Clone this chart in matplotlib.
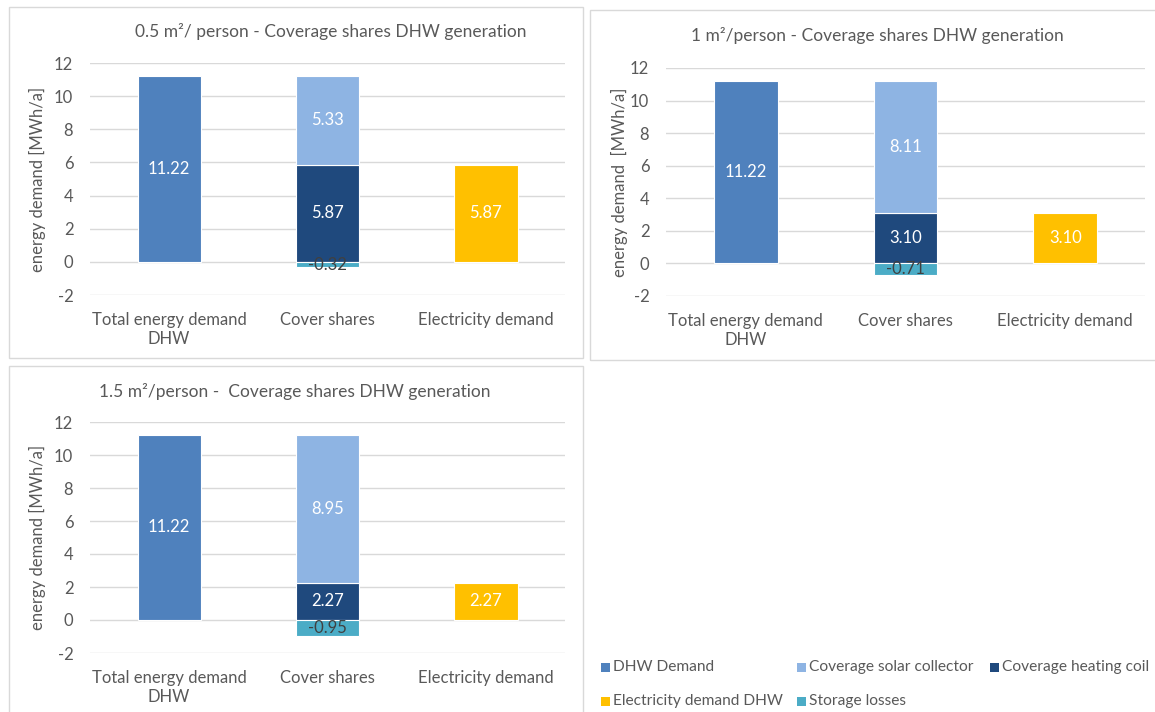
import matplotlib
matplotlib.use("Agg")
import matplotlib.pyplot as plt
from matplotlib.patches import Rectangle
import numpy as np

plt.rcParams['font.family'] = ['Lato', 'DejaVu Sans']

# ---- data -------------------------------------------------------------
categories = ["Total energy demand\nDHW", "Cover shares", "Electricity demand"]
titles = ["0.5 m²/ person - Coverage shares DHW generation",
          "1 m²/person - Coverage shares DHW generation",
          "1.5 m²/person -  Coverage shares DHW generation"]
ylabels = ["energy demand [MWh/a]",
           "energy demand  [MWh/a]",
           "energy demand [MWh/a]"]
dhw_demand = [11.22, 11.22, 11.22]
solar_cov = [5.33, 8.11, 8.95]
coil_cov = [5.87, 3.10, 2.27]
elec_demand = [5.87, 3.10, 2.27]
storage_losses = [-0.32, -0.71, -0.95]
yticks = [-2, 0, 2, 4, 6, 8, 10, 12]

series_names = ["DHW Demand", "Coverage solar collector", "Coverage heating coil",
                "Electricity demand DHW", "Storage losses"]
colors = {"DHW Demand": "#4F81BD",
          "Coverage solar collector": "#8EB4E3",
          "Coverage heating coil": "#1F497D",
          "Electricity demand DHW": "#FFC000",
          "Storage losses": "#4BACC6"}

TXT = "#595959"
GRID = "#D9D9D9"
W, H = 1155, 712

fig = plt.figure(figsize=(W / 100, H / 100), dpi=100)


def px_axes(x0, y0, x1, y1):
    """Axes from pixel box (top-left origin)."""
    return fig.add_axes([x0 / W, 1 - y1 / H, (x1 - x0) / W, (y1 - y0) / H])


def px_box(x0, y0, x1, y1):
    fig.add_artist(Rectangle((x0 / W, 1 - y1 / H), (x1 - x0) / W, (y1 - y0) / H,
                             transform=fig.transFigure, fill=False,
                             edgecolor=GRID, linewidth=1.0))


# panel frames
px_box(9, 7, 583, 358)
px_box(590, 10, 1170, 360)
px_box(9, 366, 583, 720)

# (plot area, title position, ylabel x)
layouts = [
    dict(area=(90, 63, 565, 295), title=(331, 31), ylab=37),
    dict(area=(666, 68, 1145, 296), title=(877, 35), ylab=619),
    dict(area=(90, 422, 565, 653), title=(295, 391), ylab=37),
]

x = np.arange(len(categories))
bw = 0.4

for i, lay in enumerate(layouts):
    ax = px_axes(*lay["area"])
    ax.set_xlim(-0.5, 2.5)
    ax.set_ylim(-2, 12)
    ax.set_yticks(yticks)
    ax.set_yticklabels([str(t) for t in yticks])
    ax.yaxis.grid(True, color=GRID, linewidth=1.0)
    ax.set_axisbelow(True)
    for s in ax.spines.values():
        s.set_visible(False)
    ax.tick_params(length=0, labelsize=12, colors=TXT)
    ax.tick_params(axis='y', pad=12)
    ax.tick_params(axis='x', pad=12)
    ax.set_xticks(x)
    ax.set_xticklabels(categories, color=TXT, fontsize=12, linespacing=1.25)

    ekw = dict(edgecolor="white", linewidth=0.8, width=bw)
    b1 = ax.bar(x[0], dhw_demand[i], color=colors["DHW Demand"], **ekw)
    b3 = ax.bar(x[1], coil_cov[i], color=colors["Coverage heating coil"], **ekw)
    b2 = ax.bar(x[1], solar_cov[i], bottom=coil_cov[i],
                color=colors["Coverage solar collector"], **ekw)
    b4 = ax.bar(x[2], elec_demand[i], color=colors["Electricity demand DHW"], **ekw)
    b5 = ax.bar(x[1], storage_losses[i], color=colors["Storage losses"], **ekw)

    lkw = dict(label_type="center", fontsize=12, fmt="%.2f")
    ax.bar_label(b1, color="white", **lkw)
    ax.bar_label(b2, color="white", **lkw)
    ax.bar_label(b3, color="white", **lkw)
    ax.bar_label(b4, color="white", **lkw)
    ax.bar_label(b5, color="#404040", **lkw)

    tx, ty = lay["title"]
    fig.text(tx / W, 1 - ty / H, titles[i], ha="center", va="center",
             fontsize=12.5, color=TXT)
    fig.text(lay["ylab"] / W, 1 - (lay["area"][1] + lay["area"][3]) / 2 / H,
             ylabels[i], rotation=90, ha="center", va="center",
             fontsize=12, color=TXT)

# legend drawn as coloured squares with labels
legend_pos = [(601, 667), (797, 667), (990, 667), (601, 701), (797, 701)]
for name, (lx, ly) in zip(series_names, legend_pos):
    fig.add_artist(Rectangle((lx / W, 1 - (ly + 4.5) / H), 9 / W, 9 / H,
                             transform=fig.transFigure, facecolor=colors[name],
                             edgecolor="none"))
    fig.text((lx + 12) / W, 1 - ly / H, name, ha="left", va="center",
             fontsize=11.2, color=TXT)

fig.savefig("out.png", dpi=100)
